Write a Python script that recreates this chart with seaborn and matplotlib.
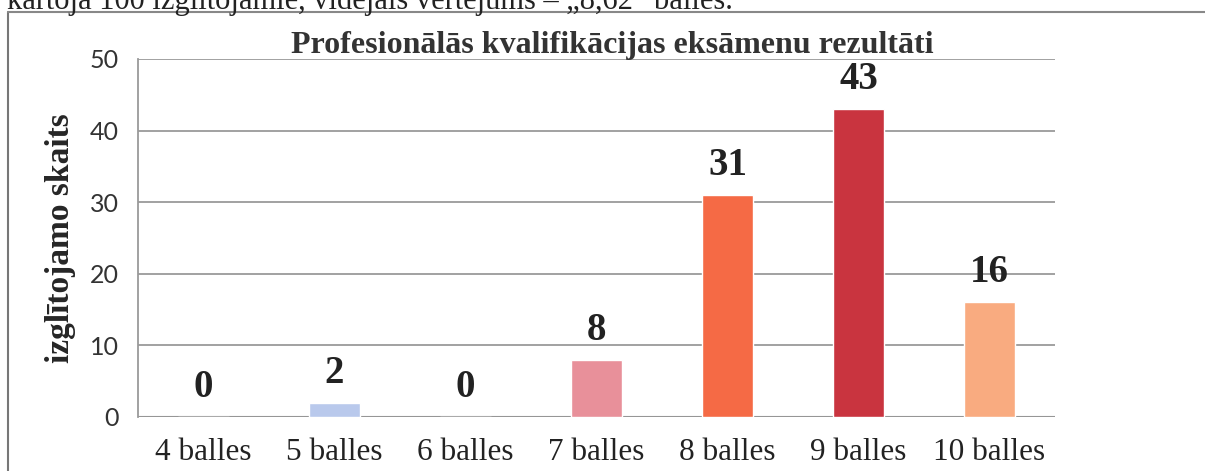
import matplotlib
matplotlib.use('Agg')
import matplotlib.pyplot as plt
import seaborn as sns
import pandas as pd
from matplotlib.lines import Line2D

# dati no attēla
categories = ['4 balles', '5 balles', '6 balles', '7 balles', '8 balles', '9 balles', '10 balles']
counts = [0, 2, 0, 8, 31, 43, 16]
colors = ['#9dc3e6', '#b9c9ec', '#e8909a', '#e8909a', '#f56a45', '#c9343f', '#f9ab80']
y_ticks = [0, 10, 20, 30, 40, 50]

title = 'Profesionālās kvalifikācijas eksāmenu rezultāti'
y_label = 'izglītojamo skaits'
top_line = 'kārtoja 100 izglītojamie, vidējais vērtējums – „8,62” balles.'

df = pd.DataFrame({'cat': categories, 'val': counts})

sns.set_style('white')
plt.rcParams['font.family'] = ['Liberation Serif', 'DejaVu Serif']

fig = plt.figure(figsize=(12.05, 4.71), dpi=100)
ax = fig.add_axes([138 / 1205, 1 - 417 / 471, 917 / 1205, 358 / 471])

sns.barplot(data=df, x='cat', y='val', hue='cat', palette=colors,
            width=0.39, legend=False, ax=ax, saturation=1)

ax.set_ylim(0, 50)
ax.set_yticks(y_ticks)
ax.set_xlim(-0.5, len(categories) - 0.5)
ax.yaxis.grid(True, color='#9a9a9a', linewidth=1.3)
ax.set_axisbelow(True)
for s in ['top', 'right', 'bottom']:
    ax.spines[s].set_visible(False)
ax.spines['left'].set_color('#9a9a9a')
ax.spines['left'].set_linewidth(1.3)
ax.axhline(0, color='#777777', linewidth=1.5, zorder=0.5)

ax.tick_params(axis='y', length=8, color='#9a9a9a', width=1.3, pad=6)
ax.tick_params(axis='x', length=0, pad=15)
for t in ax.get_yticklabels():
    t.set_fontfamily(['Lato', 'DejaVu Sans'])
    t.set_fontsize(18)
    t.set_color('#333333')
for t in ax.get_xticklabels():
    t.set_fontsize(22.5)
    t.set_color('#222222')

ax.set_xlabel('')
ax.set_ylabel(y_label, fontsize=24, fontweight='bold')
ax.yaxis.set_label_coords(-0.068, 0.5)

for i, v in enumerate(counts):
    ax.annotate(str(v), (i, v), xytext=(0, 8), textcoords='offset points',
                ha='center', va='bottom', fontsize=28, fontweight='bold', color='#222222')

ax.text(3.12, 49.8, title, ha='center', va='bottom', fontsize=23,
        fontweight='bold', color='#333333')

# rāmis un nogrieztā teksta rinda
fig.add_artist(Line2D([8 / 1205, 8 / 1205], [0, 1 - 12 / 471], color='#777777', linewidth=1.5))
fig.add_artist(Line2D([8 / 1205, 1], [1 - 12 / 471, 1 - 12 / 471], color='#888888', linewidth=1.5))
fig.text(733 / 1205, 1 - 1 / 471, top_line, ha='right', va='center', fontsize=22, color='#222222')

fig.savefig('out.png', dpi=100, facecolor='white')
